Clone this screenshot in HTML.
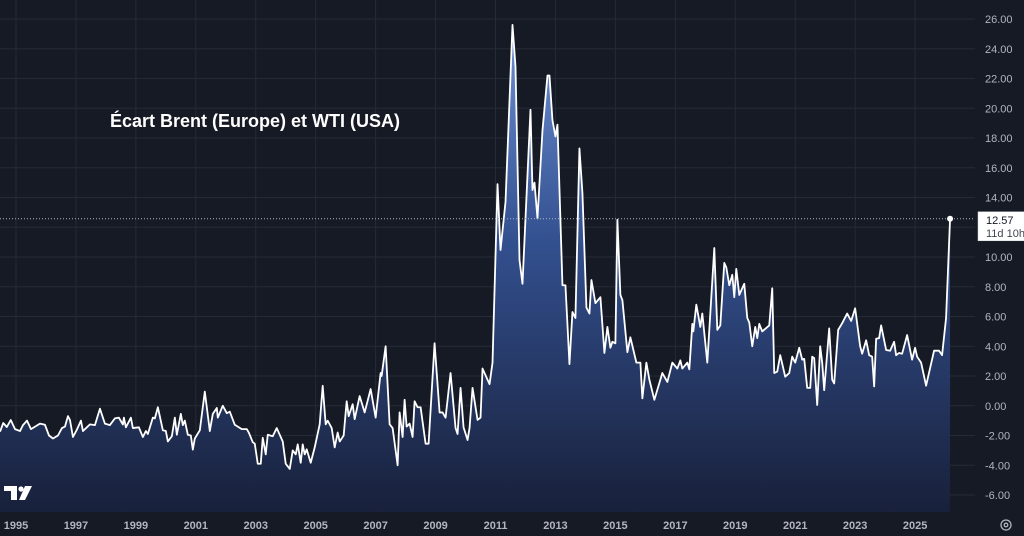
<!DOCTYPE html>
<html><head><meta charset="utf-8">
<style>
html,body{margin:0;padding:0;background:#161a25;}
body{width:1024px;height:536px;overflow:hidden;font-family:"Liberation Sans",sans-serif;}
svg{display:block}
</style></head>
<body>
<svg id="chart" width="1024" height="536" viewBox="0 0 1024 536" xmlns="http://www.w3.org/2000/svg">
<defs>
<linearGradient id="fillGrad" x1="0" y1="19" x2="0" y2="512" gradientUnits="userSpaceOnUse">
<stop offset="0" stop-color="#6f93d6" stop-opacity="1"/>
<stop offset="0.45" stop-color="#33508f" stop-opacity="1"/>
<stop offset="1" stop-color="#18203a" stop-opacity="1"/>
</linearGradient>
</defs>
<rect x="0" y="0" width="1024" height="536" fill="#161a25"/>
<g id="grid"></g>
<g id="series"></g>
<g id="yaxis"></g>
<g id="xaxis"></g>
<text x="110" y="127" fill="#ffffff" font-size="18" font-weight="bold" font-family="Liberation Sans, sans-serif">Écart Brent (Europe) et WTI (USA)</text>
<g fill="#ffffff">
<path d="M4 486 h13 v14 h-6 v-9 h-7z"/>
<circle cx="21" cy="489" r="2.6"/>
<path d="M25 486 h7 l-7 14 h-6z"/>
</g>
<g fill="none" stroke="#b2b5be" stroke-width="1.3">
<circle cx="1006" cy="525" r="5"/>
<circle cx="1006" cy="525" r="1.8"/>
</g>
</svg>
<script>
const months = [-6.4,-5.1,-3.7,-2.1,-0.4,1.6,2.8,4.4,6,9.6,11.6,13.2,14.8,16.8,18.4,19.6,20.8,21.6,22.8,24.4,26,26.8,29.6,31.6,33.6,35.6,37.6,39.6,41.2,42.8,43.2,44,46,46.8,49.2,50.8,52,52.8,54.8,55.6,56.8,58.8,60,60.8,62.4,63.6,64.4,66,66.8,67.6,68.8,70,70.8,71.6,73.6,75.6,77.6,78.8,80.4,80.8,82.8,84.4,85.6,87.6,90.4,92.4,93.2,94.8,95.6,96.8,98,98.8,100,100.8,102.8,104.4,106.8,108,109.6,110.8,112,112.8,114,114.8,115.6,116.4,118,119.6,121.6,122.8,124,124.8,126.4,127.6,128.8,129.6,131.2,132.4,133.2,134.8,135.6,137.6,139.6,142,144,146,146.4,148,149.6,150.8,152.8,153.6,154.8,155.6,156.4,157.6,158.8,159.6,160.8,162,164,165.2,167.6,169.6,170.8,172,174,176,176.8,178,179.2,180.8,181.6,182.8,184.8,186,186.8,189.6,190.8,192.8,194,196,198.8,200,201.6,202.8,206,206.8,207.6,208.8,210.8,212.8,213.6,214.8,216,216.8,218.8,220,221.6,222.8,224,225.6,226.8,228.4,229.6,230.4,232,234,235.6,236.8,238,238.8,240,240.8,242,242.8,244.8,246,248.4,250,250.8,252.4,253.6,255.6,258.8,260.8,262.8,264.8,266,266.8,268.8,269.6,270.8,271.2,272.4,274,274.8,276.8,279.6,280.8,282,283.6,284.4,285.6,286.8,287.6,288.4,289.6,291.6,292.8,293.6,294.8,296,296.8,297.6,298.8,301.6,302.8,303.6,304.8,306,308,309.6,310.8,312,313.6,314.8,315.6,316.8,318,318.8,319.6,320.8,322,322.8,323.6,325.6,326.8,327.6,329.2,330.8,332.8,334.4,336,338,338.8,340.4,341.6,342.8,343.6,344.4,345.6,346.4,348.4,350,351.6,352.4,353.6,354.8,356.8,358.8,360,360.8,362.4,364.4,367.6,369.6,370.8,372.4,374];
const spread = [-1.74,-1.16,-1.43,-0.96,-1.57,-1.7,-1.3,-1.0,-1.57,-1.2,-1.28,-2.0,-2.2,-2.0,-1.5,-1.4,-0.7,-0.95,-2.1,-1.6,-1.0,-1.7,-1.25,-1.3,-0.2,-1.2,-1.3,-0.85,-0.8,-1.26,-0.8,-1.45,-0.8,-1.5,-1.45,-2.1,-1.7,-1.9,-0.8,-0.85,-0.1,-1.65,-1.7,-2.4,-2.05,-0.8,-1.95,-0.55,-1.3,-1.0,-1.95,-2.0,-2.95,-2.2,-1.65,0.95,-1.7,-0.55,-0.15,-0.8,0.0,-0.5,-0.4,-1.28,-1.57,-1.57,-1.8,-2.45,-2.55,-3.9,-3.9,-2.15,-3.27,-1.95,-2.05,-1.5,-2.4,-3.9,-4.25,-3.0,-3.27,-2.6,-3.83,-2.6,-3.27,-2.93,-3.83,-2.8,-1.25,1.34,-1.25,-1.0,-1.5,-2.8,-1.8,-2.4,-2.0,0.3,-0.7,0.1,-0.9,0.65,-0.45,1.12,-0.8,2.2,2.0,4.0,-1.25,-1.5,-4.0,-0.45,-2.1,0.4,-1.4,-1.2,-2.1,0.3,-0.1,-0.1,-2.55,-2.55,4.2,-0.45,-0.45,-0.8,2.2,-1.5,-1.9,1.2,-1.45,-2.3,-1.5,1.2,-0.95,-0.8,2.5,1.45,2.9,14.9,10.47,13.7,25.6,22.8,9.8,8.2,19.9,14.5,15.0,12.6,18.5,22.2,22.2,19.2,18.1,18.9,8.1,8.1,2.8,6.3,5.9,17.3,14.3,6.6,6.2,8.45,6.9,7.3,3.55,5.3,3.9,4.3,4.2,12.5,7.45,7.1,3.6,4.6,2.9,2.9,0.5,2.9,1.75,0.4,2.2,1.6,2.9,2.5,3.05,2.5,2.9,2.45,5.5,5.0,6.8,5.3,6.2,2.9,10.6,5.1,5.4,9.6,9.3,8.1,8.8,7.3,9.2,7.45,8.2,5.9,5.6,4.0,5.3,4.55,5.5,5.0,5.4,7.9,2.2,2.3,3.4,1.95,2.2,3.3,2.9,3.9,3.1,3.15,1.2,1.2,3.3,3.2,0.05,4.0,2.9,1.05,5.2,1.75,1.5,5.1,5.55,6.2,5.7,6.55,4.0,3.5,4.4,3.4,3.3,1.3,4.5,4.55,5.4,3.75,3.7,4.3,3.4,3.55,3.5,4.75,3.1,3.9,3.3,2.9,1.35,3.7,3.7,3.4,5.9,12.57];
const yTicks = [26,24,22,20,18,16,14,12,10,8,6,4,2,0,-2,-4,-6];
const yTickLabels = ["26.00","24.00","22.00","20.00","18.00","16.00","14.00","","10.00","8.00","6.00","4.00","2.00","0.00","-2.00","-4.00","-6.00"];
const xYears = [1995,1997,1999,2001,2003,2005,2007,2009,2011,2013,2015,2017,2019,2021,2023,2025];
const lastValue = 12.57;
const lastLabel = "12.57";
const countdownLabel = "11d 10h";

const NS = "http://www.w3.org/2000/svg";
function xScale(m){ return 16 + m * 2.4975; }
function yScale(v){ return 19 + (26 - v) * 14.875; }
function mk(tag, attrs, parent){
  const e = document.createElementNS(NS, tag);
  for (const k in attrs) e.setAttribute(k, attrs[k]);
  parent.appendChild(e);
  return e;
}
const grid = document.getElementById('grid');
const series = document.getElementById('series');
const yaxis = document.getElementById('yaxis');
const xaxis = document.getElementById('xaxis');
const PLOT_R = 975, PLOT_B = 512;

yTicks.forEach((v, i) => {
  const y = yScale(v);
  const l = mk('line', {x1:0, x2:PLOT_R, y1:y, y2:y, stroke:'#252a37', 'stroke-width':1}, grid);
  
  
  if (yTickLabels[i]) {
    const t = mk('text', {x:985, y:y+4, fill:'#b2b5be', 'font-size':11}, yaxis);
    t.textContent = yTickLabels[i];
    
    
  }
});
xYears.forEach(yr => {
  const x = xScale((yr - 1995) * 12);
  const l = mk('line', {x1:x, x2:x, y1:0, y2:PLOT_B, stroke:'#252a37', 'stroke-width':1}, grid);
  
  
  const t = mk('text', {x:x, y:529, fill:'#b2b5be', 'font-size':11, 'font-weight':'bold', 'text-anchor':'middle'}, xaxis);
  t.textContent = String(yr);
  
  
});

let d = '';
months.forEach((m, i) => { d += (i ? 'L' : 'M') + xScale(m).toFixed(2) + ',' + yScale(spread[i]).toFixed(2); });
const lastX = xScale(months[months.length-1]);
const firstX = xScale(months[0]);
const area = mk('path', {d: d + 'L' + lastX + ',' + PLOT_B + 'L' + firstX + ',' + PLOT_B + 'Z', fill:'url(#fillGrad)'}, series);


const line = mk('path', {d: d, fill:'none', stroke:'#ffffff', 'stroke-width':1.8, 'stroke-linejoin':'round'}, series);



const ly = yScale(lastValue);
const dl = mk('line', {x1:0, x2:PLOT_R, y1:ly, y2:ly, stroke:'#b2b5be', 'stroke-width':1, 'stroke-dasharray':'1 2'}, series);


const dot = mk('circle', {cx:lastX, cy:ly, r:3, fill:'#ffffff'}, series);


const box = mk('rect', {x:978, y:ly-7, width:50, height:29, fill:'#ffffff', stroke:'#d0d3da', 'stroke-width':0.5}, yaxis);


const t1 = mk('text', {x:986, y:ly+5, fill:'#131722', 'font-size':11}, yaxis);
t1.textContent = lastLabel;


const t2 = mk('text', {x:986, y:ly+18, fill:'#434651', 'font-size':11}, yaxis);
t2.textContent = countdownLabel;


</script>
</body></html>
